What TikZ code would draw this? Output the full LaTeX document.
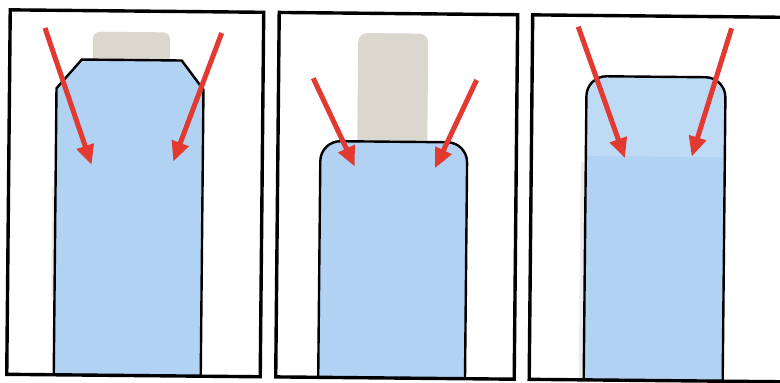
\documentclass[tikz,border=0pt]{standalone}
\usetikzlibrary{arrows.meta}
\definecolor{fillblue}{RGB}{178,210,243}
\definecolor{lightblue}{RGB}{190,219,246}
\definecolor{tabgray}{RGB}{218,215,207}
\definecolor{arrowred}{RGB}{226,58,48}
\definecolor{ghost}{RGB}{236,236,234}
\tikzset{
  frame/.style={draw=black, line width=3.4pt},
  outline/.style={draw=black, line width=2.4pt, line join=round},
  tab/.style={fill=tabgray},
  redarrow/.style={draw=arrowred, line width=5pt, -{Triangle[length=20pt,width=17pt]}},
}
\begin{document}
\begin{tikzpicture}[x=1pt,y=-1pt]
\useasboundingbox (0,0) rectangle (780,383);
\fill[white] (0,0) rectangle (780,383);
\clip (0,0) rectangle (780,383);
\begin{scope}[rotate around={-0.55:(390,191.5)}]
  % ---------- panel 1 ----------
  \fill[tab, rounded corners=7pt] (91.5,75) -- (91.5,34.5) -- (168.5,34.5) -- (168.5,75) -- cycle;
  \fill[ghost] (52,190) rectangle (55.5,300);
  \fill[fillblue] (55.5,378) -- (55.5,91.5) -- (80.5,62.5) -- (180.5,62.5) -- (202.5,91.5) -- (202.5,378) -- cycle;
  \draw[outline] (55.5,378) -- (55.5,91.5) -- (80.5,62.5) -- (180.5,62.5) -- (202.5,91.5) -- (202.5,378);
  \draw[frame] (8.5,13.5) rectangle (262,378);
  \coordinate (a1s) at (43.4,31.3);  \coordinate (a1e) at (91.4,167.9);
  \coordinate (a2s) at (220.2,34.6); \coordinate (a2e) at (173,163.8);
  \draw[redarrow] (a1s) -- (a1e);
  \draw[redarrow] (a2s) -- (a2e);
  % ---------- panel 2 ----------
  \fill[tab, rounded corners=9pt] (356.8,160) -- (356.8,33.3) -- (426.8,33.3) -- (426.8,160) -- cycle;
  \begin{scope}
    \clip[rounded corners=20pt] (320,400) -- (320,141.7) -- (466.8,141.7) -- (466.8,400) -- cycle;
    \fill[fillblue] (315,135) rectangle (470,378);
  \end{scope}
  \draw[outline, rounded corners=20pt] (320,378) -- (320,141.7) -- (466.8,141.7) -- (466.8,378);
  \draw[frame] (277.5,13.5) rectangle (516,378);
  \coordinate (b1s) at (312.2,79.0);  \coordinate (b1e) at (354.7,167);
  \coordinate (b2s) at (475.6,79.2);  \coordinate (b2e) at (434.8,167.9);
  \draw[redarrow] (b1s) -- (b1e);
  \draw[redarrow] (b2s) -- (b2e);
  % ---------- panel 3 ----------
  \fill[ghost] (580.5,160) rectangle (585.5,378);
  \begin{scope}
    \clip[rounded corners=20pt] (585.5,400) -- (585.5,74.2) -- (724.5,74.2) -- (724.5,400) -- cycle;
    \fill[fillblue] (580,70) rectangle (730,378);
    \fill[lightblue] (580,70) rectangle (730,154);
  \end{scope}
  \draw[outline, rounded corners=20pt] (585.5,378) -- (585.5,74.2) -- (724.5,74.2) -- (724.5,378);
  \draw[frame] (531,13.5) rectangle (820,378);
  \coordinate (c1s) at (576.7,24.9);  \coordinate (c1e) at (624.7,156.0);
  \coordinate (c2s) at (730.1,25.0);  \coordinate (c2e) at (691.4,153.8);
  \draw[redarrow] (c1s) -- (c1e);
  \draw[redarrow] (c2s) -- (c2e);
\end{scope}
\end{tikzpicture}
\end{document}
